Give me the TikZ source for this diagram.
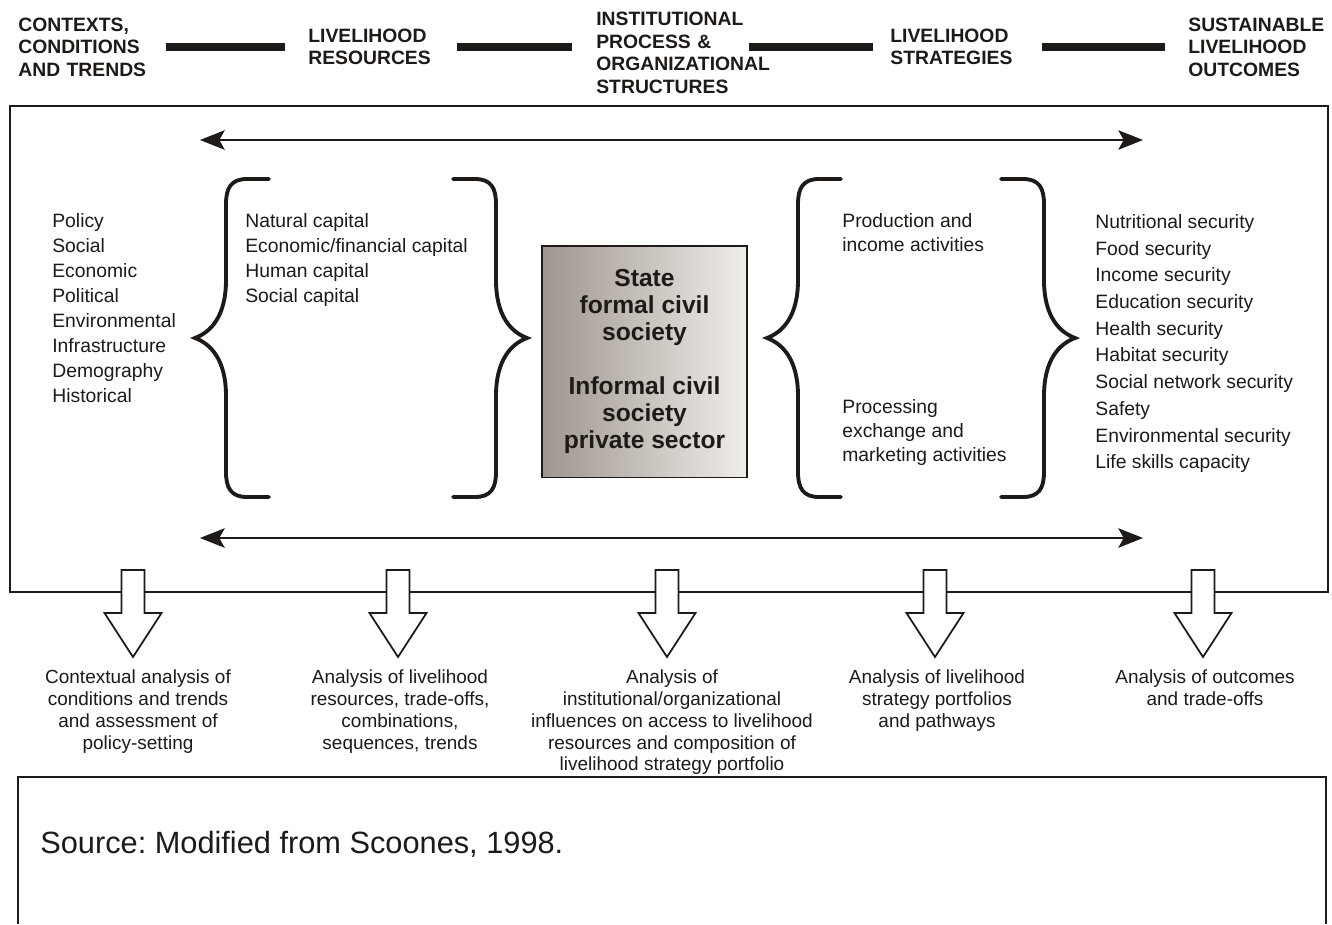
\documentclass[tikz,border=0pt]{standalone}
\usepackage{fontspec}
\setmainfont{Liberation Sans}
\usetikzlibrary{arrows.meta}
\definecolor{inkdark}{RGB}{30, 26, 24}
\definecolor{boxleft}{RGB}{158, 150, 142}
\definecolor{boxright}{RGB}{240, 238, 234}
\frenchspacing

\tikzset{
	hdr/.style={anchor=west, align=left, inner sep=0pt, font=\fontsize{11}{12.8}\selectfont\bfseries},
	bar/.style={line width=4pt},
	lst/.style={anchor=north west, align=left, inner sep=0pt},
	ana/.style={anchor=north, align=center, inner sep=0pt, font=\fontsize{10.8}{12.5}\selectfont},
	flow/.style={line width=1.6pt, {Stealth[length=14pt, width=11pt, inset=3pt]}-{Stealth[length=14pt, width=11pt, inset=3pt]}},
	curlyline/.style={line width=2.2pt, line cap=round},
	frame/.style={line width=1.1pt},
	curly/.pic={
		\draw[curlyline] (74,-159) -- (52,-159) .. controls (36,-159) and (31,-150) .. (31,-134) -- (31,-58)
		.. controls (31,-22) and (16,-6) .. (0,0) .. controls (16,6) and (31,22) .. (31,58)
		-- (31,134) .. controls (31,150) and (36,159) .. (52,159) -- (74,159);
	},
	hollow/.pic={
		\draw[line width=1pt, fill=white] (-11.5,0) -- (11.5,0) -- (11.5,43) -- (28.5,43) -- (0,87) -- (-28.5,43) -- (-11.5,43) -- cycle;
	}
}

\begin{document}
\begin{tikzpicture}[x=0.02cm, y=-0.02cm, color=inkdark, every node/.style={text=inkdark}]
	
	% fixed page size
	\fill[white] (0,0) rectangle (1332,924);
	\useasboundingbox (0,0) rectangle (1332,924);
	
	% --- Header row ---
	\node[hdr, text width=74pt] (ctx) at (18,47) {CONTEXTS,\\CONDITIONS\\AND TRENDS};
	\node[hdr, text width=73pt] (res) at (308,47) {LIVELIHOOD\\RESOURCES};
	\node[hdr, text width=100pt] (inst) at (596,53) {INSTITUTIONAL\\PROCESS \&\\ORGANIZATIONAL\\STRUCTURES};
	\node[hdr, text width=71pt] (strat) at (890,47) {LIVELIHOOD\\STRATEGIES};
	\node[hdr, text width=78pt] (outc) at (1188,47) {SUSTAINABLE\\LIVELIHOOD\\OUTCOMES};
	
	\draw[bar] ([xshift=10pt]ctx.east) -- ([xshift=-13pt]res.west);
	\draw[bar] ([xshift=11.5pt]res.east) -- ([xshift=-13.5pt]inst.west |- res.west);
	\draw[bar] ([xshift=-13.5pt]inst.east |- res.east) -- ([xshift=-9.5pt]strat.west);
	\draw[bar] ([xshift=15pt]strat.east) -- ([xshift=-13pt]outc.west);
	
	% --- Main frame and flow arrows ---
	\draw[frame] (10,106) rectangle (1328,592);
	\coordinate (flowtopL) at (200,140);
	\coordinate (flowtopR) at (1143,140);
	\coordinate (flowbotL) at (200,538);
	\coordinate (flowbotR) at (1143,538);
	\draw[flow] (flowtopL) -- (flowtopR);
	\draw[flow] (flowbotL) -- (flowbotR);
	
	% --- Contexts list ---
	\node[lst, font=\fontsize{11}{14.2}\selectfont] (conds) at (52,213)
	{Policy\\Social\\Economic\\Political\\Environmental\\Infrastructure\\Demography\\Historical};
	
	% --- Livelihood resources ---
	\pic at (195,338) {curly};
	\pic[xscale=-1] at (527,338) {curly};
	\node[lst, font=\fontsize{11}{14.2}\selectfont] (capitals) at (245,213)
	{Natural capital\\Economic/financial capital\\Human capital\\Social capital};
	
	% --- Institutions box ---
	\node[draw, line width=1.1pt, left color=boxleft, right color=boxright, minimum width=117pt, minimum height=132pt,
	align=center, inner sep=0pt, font=\fontsize{14}{15.3}\selectfont\bfseries] (actors) at (644.5,361.5)
	{State\\formal civil\\society\\[15.3pt]Informal civil\\society\\private sector};
	
	% --- Livelihood strategies ---
	\pic at (767,338) {curly};
	\pic[xscale=-1] at (1075,338) {curly};
	\node[lst, font=\fontsize{11}{13.6}\selectfont] (prod) at (842,213) {Production and\\income activities};
	\node[lst, font=\fontsize{11}{13.6}\selectfont] (proc) at (842,399) {Processing\\exchange and\\marketing activities};
	
	% --- Outcomes list ---
	\node[lst, font=\fontsize{11}{15.2}\selectfont] (secs) at (1095,214)
	{Nutritional security\\Food security\\Income security\\Education security\\Health security\\Habitat security\\Social network security\\Safety\\Environmental security\\Life skills capacity};
	
	% --- Analysis arrows ---
	\foreach \x in {133, 398, 667, 935, 1203} {
		\pic at (\x,570) {hollow};
	}
	\node[ana] (ana1) at (138,669) {Contextual analysis of\\conditions and trends\\and assessment of\\policy-setting};
	\node[ana] (ana2) at (400,669) {Analysis of livelihood\\resources, trade-offs,\\combinations,\\sequences, trends};
	\node[ana] (ana3) at (672,669) {Analysis of\\institutional/organizational\\influences on access to livelihood\\resources and composition of\\livelihood strategy portfolio};
	\node[ana] (ana4) at (937,669) {Analysis of livelihood\\strategy portfolios\\and pathways};
	\node[ana] (ana5) at (1205,669) {Analysis of outcomes\\and trade-offs};
	
	% --- Source box ---
	\draw[frame] (18,924) -- (18,777) -- (1326,777) -- (1326,924);
	\node[anchor=base west, inner sep=0pt, font=\fontsize{17.5}{20}\selectfont] (src) at (40,853) {Source: Modified from Scoones, 1998.};
	
\end{tikzpicture}
\end{document}
